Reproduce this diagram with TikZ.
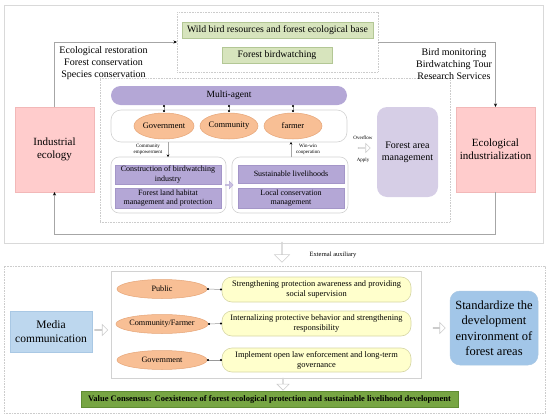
\documentclass[tikz,border=0pt]{standalone}
\usepackage{fontspec}
\setmainfont{Liberation Serif}
\usetikzlibrary{arrows.meta,shapes.geometric,shapes.arrows}
\definecolor{pinkf}{HTML}{FFCCCC}
\definecolor{pinkd}{HTML}{F2B8B8}
\definecolor{greenf}{HTML}{D7E4BD}
\definecolor{greend}{HTML}{B3C795}
\definecolor{purf}{HTML}{B4A7D6}
\definecolor{purd}{HTML}{A496C8}
\definecolor{lavf}{HTML}{D6CEE6}
\definecolor{oraf}{HTML}{F8BF95}
\definecolor{orad}{HTML}{E6A577}
\definecolor{yelf}{HTML}{FFFFCC}
\definecolor{yeld}{HTML}{D6D6A6}
\definecolor{bluef}{HTML}{BDD7EE}
\definecolor{bluet}{HTML}{A2C6E8}
\definecolor{blued}{HTML}{A9C8E4}
\definecolor{valf}{HTML}{77A543}
\definecolor{vald}{HTML}{608C33}
\definecolor{framec}{HTML}{D9D9D9}
\definecolor{linec}{HTML}{A6A6A6}
\newcommand{\fsz}[2]{\fontsize{#1}{#2}\selectfont}
\begin{document}
\begin{tikzpicture}[x=1pt,y=-1pt,
  every node/.style={inner sep=0pt, outer sep=0pt, align=center},
  sz/.style 2 args={minimum width=#1pt, minimum height=#2pt},
  dotframe/.style={draw=gray!40, dash pattern=on 0.8pt off 0.8pt, line width=0.5pt},
  pinkbox/.style={draw=pinkd, fill=pinkf, line width=0.6pt, font=\fsz{11}{13}},
  greenbox/.style={draw=greend, fill=greenf, line width=0.5pt, font=\fsz{9.8}{11}},
  purbox/.style={draw=purd, fill=purf, line width=0.4pt, font=\fsz{8}{9.5}},
  grpbox/.style={draw=gray!35, fill=white, rounded corners=8pt, line width=0.6pt},
  oval/.style={ellipse, draw=orad, fill=oraf, line width=0.5pt},
  yelbox/.style={draw=yeld, fill=yelf, rounded corners=10pt, line width=0.6pt, font=\fsz{8.4}{10}},
  fbline/.style={draw=linec, line width=0.6pt, -{Stealth[length=3.5pt,width=3pt,black]}},
  smallarr/.style={draw=gray!70, line width=0.5pt, -{Stealth[length=2.5pt,width=2.5pt,black]}},
  dotc/.style={draw=gray!80, line width=0.5pt, {Circle[length=2pt,black]}-{Circle[length=2pt,black]}},
  hollow/.style={single arrow, draw=gray!40, fill=white, line width=0.6pt, single arrow head extend=3pt},
  tiny/.style={font=\fsz{5}{6}}
]
\useasboundingbox (0,0) rectangle (550,418);
% ---------- top section ----------
\node[draw=framec, line width=0.9pt, sz={539}{238}] (frametop) at (273.5,124) {};
\node[dotframe, sz={201}{60}] (topbox) at (277.5,42) {};
\node[greenbox, sz={191}{16}] (wild) at (277.5,30) {Wild bird resources and forest ecological base};
\node[greenbox, sz={110}{16}] (fbw) at (277,55) {Forest birdwatching};
\node[dotframe, sz={350}{144}] (inner) at (275,150) {};

\node[pinkbox, sz={79}{85}] (ind) at (54.5,149.5) {Industrial\\ecology};
\node[pinkbox, sz={79}{85}] (eco) at (495.5,149.5) {Ecological\\industrialization};

\node[font=\fsz{10}{12}] (lefttxt) at (103.5,63) {Ecological restoration\\Forest conservation\\Species conservation};
\node[font=\fsz{10}{12}] (righttxt) at (454,64) {Bird monitoring\\Birdwatching Tour\\Research Services};

\draw[fbline] (ind.north) |- (topbox.west);
\draw[fbline] (topbox.east) -| (eco.north);
\draw[fbline] (eco.south) -- ++(0,42) -| (ind.south);

\node[fill=purf, rounded corners=9.5pt, sz={236}{19}, font=\fsz{9.5}{11}] (multi) at (229,95.5) {Multi-agent};
\node[grpbox, rounded corners=10pt, sz={236}{32}] (agentrow) at (229,126) {};
\node[oval, sz={58}{26}, font=\fsz{8.5}{10}] (gov) at (164,126) {Government};
\node[oval, sz={58}{26}, font=\fsz{8.5}{10}] (com) at (229,126) {Community};
\node[oval, sz={58}{26}, font=\fsz{8.5}{10}] (farm) at (293,126) {farmer};
\draw[dotc] (multi.south -| gov) -- ([yshift=1pt]gov.north);
\draw[dotc] (multi.south -| com) -- ([yshift=1pt]com.north);
\draw[dotc] (multi.south -| farm) -- ([yshift=1pt]farm.north);

\node[grpbox, sz={115}{56}] (leftgrp) at (168.5,185) {};
\node[purbox, sz={106}{19}] (cb) at (168,174.5) {Construction of birdwatching\\industry};
\node[purbox, sz={106}{20}] (fl) at (168,198) {Forest land habitat\\management and protection};
\node[grpbox, sz={116}{56}] (rightgrp) at (290,185) {};
\node[purbox, sz={106}{18}] (sl) at (291,174) {Sustainable livelihoods};
\node[purbox, sz={106}{20}] (lc) at (291,198) {Local conservation\\management};
\node[single arrow, fill=purf!70, draw=purf, line width=0.3pt, minimum height=8pt, minimum width=8pt, single arrow head extend=1.5pt] (midarr) at (229,185) {};

\draw[smallarr] (cb |- agentrow.south) -- (cb |- leftgrp.north);
\draw[smallarr] (sl |- leftgrp.north) -- (sl |- agentrow.south);
\node[tiny] (celab) at (148,149) {Community\\empowerment};
\node[tiny] (wwlab) at (308,149) {Win-win\\cooperation};

\node[fill=lavf, rounded corners=10pt, sz={61}{90}, font=\fsz{10}{12}] (fam) at (407.5,152) {Forest area\\management};
\node[tiny] (ovf) at (363,137.5) {Overflow};
\node[hollow, minimum height=12pt, minimum width=9pt, single arrow head extend=2pt] (ovarr) at (364,148) {};
\node[tiny] (apl) at (363,160.5) {Apply};

% ---------- link ----------
\node[hollow, shape border rotate=270, minimum height=20pt, minimum width=15pt, single arrow head extend=6pt] (downarr) at (282,252) {};
\node[font=\fsz{6.5}{8}] (extlab) at (333,255) {External auxiliary};

% ---------- bottom section ----------
\node[dotframe, sz={541}{147}] (framebot) at (274.5,339.5) {};
\node[draw=blued, fill=bluef, line width=0.5pt, sz={82}{41}, font=\fsz{11.5}{14}] (media) at (51,331.5) {Media\\communication};
\node[hollow, minimum height=13pt, minimum width=11pt] (marr) at (101,330) {};
\node[draw=gray!35, fill=white, line width=0.7pt, sz={310}{107}] (agentbox) at (266,324.5) {};

\node[oval, sz={90}{19}, font=\fsz{8.2}{10}] (pub) at (162,289) {Public};
\node[oval, sz={90}{19}, font=\fsz{8.2}{10}] (cf) at (162,324) {Community/Farmer};
\node[oval, sz={90}{19}, font=\fsz{8.2}{10}] (gov2) at (162,360) {Government};

\node[yelbox, sz={189}{25}] (y1) at (316.5,289.5) {Strengthening protection awareness and providing\\social supervision};
\node[yelbox, sz={189}{25}] (y2) at (316.5,323.5) {Internalizing protective behavior and strengthening\\responsibility};
\node[yelbox, sz={189}{24}] (y3) at (316.5,360) {Implement open law enforcement and long-term\\governance};
\draw[dotc] (pub.east) -- (y1.west);
\draw[dotc] (cf.east) -- (y2.west);
\draw[dotc] (gov2.east) -- (y3.west);

\node[hollow, minimum height=12pt, minimum width=11pt] (rarr) at (439,328) {};
\node[draw=blued, fill=bluet, rounded corners=10pt, line width=0.5pt, sz={88}{74}, font=\fsz{12.5}{15.5}] (std) at (494,328) {Standardize the\\development\\environment of\\forest areas};

\node[hollow, shape border rotate=270, minimum height=12pt, minimum width=12pt, single arrow head extend=5pt] (varr) at (283,384) {};
\node[draw=vald, fill=valf, line width=0.5pt, sz={377}{16}, font=\bfseries\fsz{8.5}{10}] (val) at (269.5,399) {Value Consensus: Coexistence of forest ecological protection and sustainable livelihood development};
\end{tikzpicture}
\end{document}
